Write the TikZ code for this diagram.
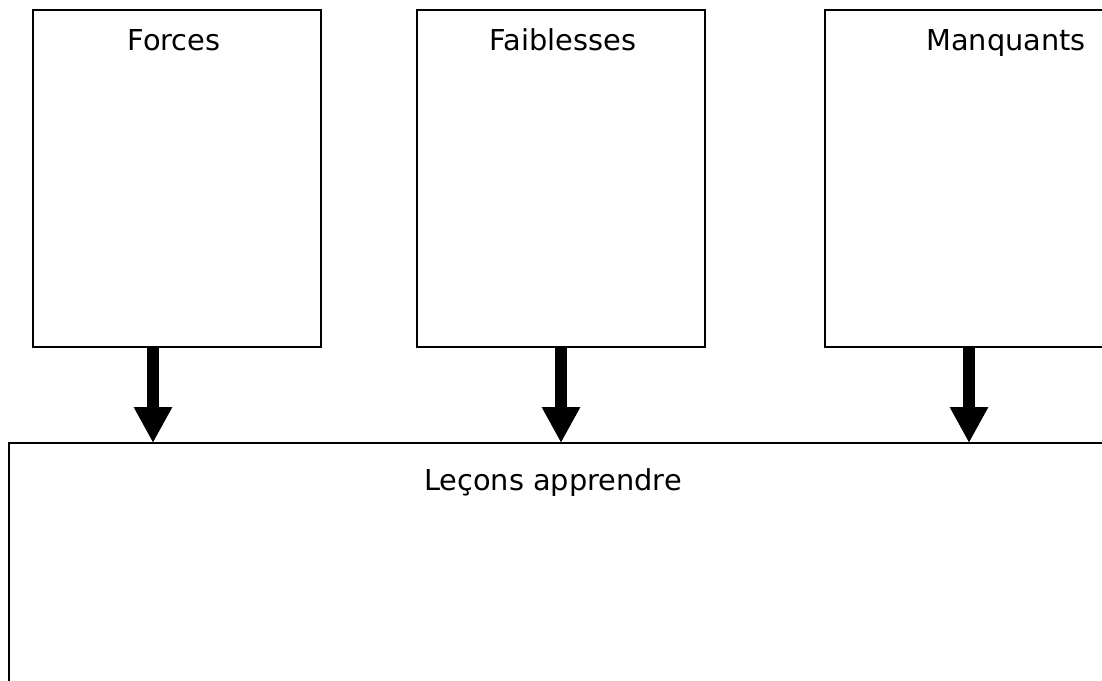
\documentclass[tikz,border=0pt]{standalone}
\usepackage{fontspec}
\setmainfont{DejaVu Sans}
\usetikzlibrary{arrows.meta}
\begin{document}
\begin{tikzpicture}[x=1pt,y=-1pt,
  box/.style={draw=black,line width=2pt,fill=none,inner sep=0pt},
  lbl/.style={font=\fontsize{28.8}{34}\selectfont,inner sep=0pt,anchor=base},
  bigarrow/.style={line width=12pt,-{Triangle[length=36pt,width=36pt]}}]
\useasboundingbox (0,0) rectangle (1102,680);
\fill[white] (0,0) rectangle (1102,680);
\draw[box] (33,10) rectangle (321,347);
\draw[box] (417,10) rectangle (705,347);
\draw[box] (825,10) rectangle (1113,347);
\draw[box] (9,443) rectangle (1115,700);
\coordinate (forces) at (177,347);
\coordinate (faib) at (561,347);
\coordinate (manq) at (969,347);
\coordinate (lecons) at (561,443);
\node[lbl] (tforces) at (174,50) {Forces};
\node[lbl] (tfaib) at (563,50) {Faiblesses};
\node[lbl] (tmanq) at (1006,50) {Manquants};
\node[lbl] (tlecons) at (553,490) {Leçons apprendre};
\coordinate (a1) at (153,347);
\coordinate (a2) at (561,347);
\coordinate (a3) at (969,347);
\draw[bigarrow] (a1) -- (a1 |- lecons);
\draw[bigarrow] (a2) -- (a2 |- lecons);
\draw[bigarrow] (a3) -- (a3 |- lecons);
\end{tikzpicture}
\end{document}
